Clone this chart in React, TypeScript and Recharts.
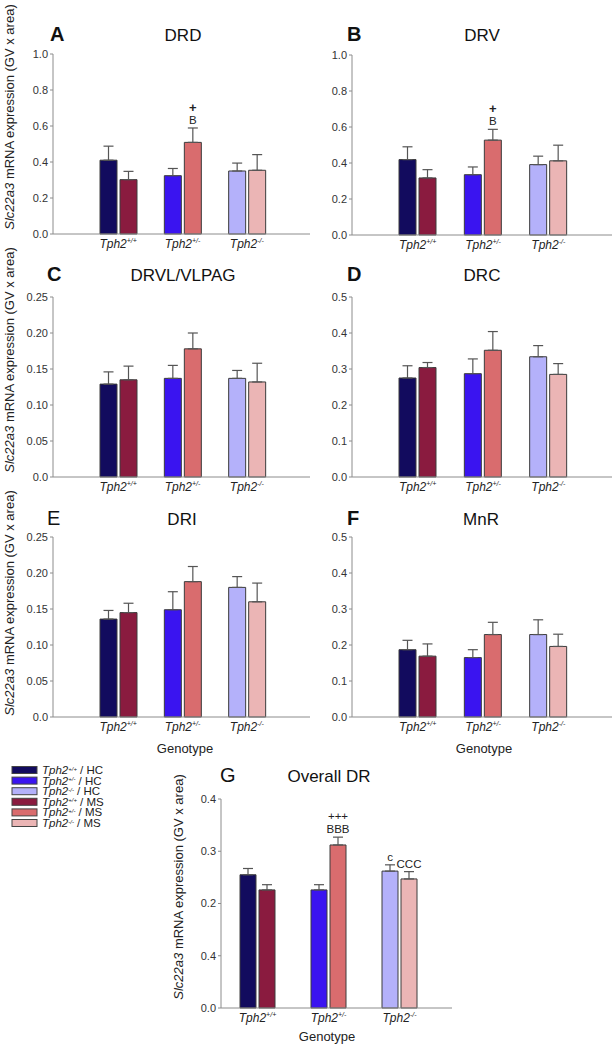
import React from 'react';
import { BarChart, Bar, XAxis, YAxis, ErrorBar, Cell, LabelList } from 'recharts';

const FONT = '"Liberation Sans", Arial, sans-serif';

// genotype categories and group colours
const genotypes = ['+/+', '+/-', '-/-'];
const hcColors = ['#120b5e', '#3a14f0', '#b4b1fa'];
const msColors = ['#8a1b3f', '#d96c6e', '#ebb5b5'];

// A - DRD
const drdHC = [0.41, 0.324, 0.35];
const drdHCErr = [0.078, 0.04, 0.044];
const drdMS = [0.302, 0.509, 0.354];
const drdMSErr = [0.046, 0.08, 0.087];
const drdMSNotes = ['', '+\nB', ''];

// B - DRV
const drvHC = [0.419, 0.335, 0.391];
const drvHCErr = [0.071, 0.043, 0.047];
const drvMS = [0.317, 0.527, 0.412];
const drvMSErr = [0.046, 0.06, 0.087];
const drvMSNotes = ['', '+\nB', ''];

// C - DRVL/VLPAG
const drvlHC = [0.129, 0.137, 0.137];
const drvlHCErr = [0.017, 0.018, 0.011];
const drvlMS = [0.135, 0.178, 0.132];
const drvlMSErr = [0.019, 0.022, 0.026];

// D - DRC
const drcHC = [0.275, 0.287, 0.334];
const drcHCErr = [0.034, 0.041, 0.031];
const drcMS = [0.304, 0.352, 0.285];
const drcMSErr = [0.014, 0.052, 0.03];

// E - DRI
const driHC = [0.136, 0.149, 0.18];
const driHCErr = [0.012, 0.025, 0.015];
const driMS = [0.145, 0.188, 0.16];
const driMSErr = [0.013, 0.021, 0.026];

// F - MnR
const mnrHC = [0.187, 0.165, 0.229];
const mnrHCErr = [0.026, 0.022, 0.041];
const mnrMS = [0.169, 0.229, 0.196];
const mnrMSErr = [0.034, 0.034, 0.034];

// G - Overall DR
const allHC = [0.255, 0.226, 0.262];
const allHCErr = [0.012, 0.01, 0.012];
const allMS = [0.226, 0.312, 0.247];
const allMSErr = [0.01, 0.015, 0.014];
const allHCNotes = ['', '', 'c'];
const allMSNotes = ['', '+++\nBBB', 'CCC'];

// y ticks
const ticks10 = [0, 0.2, 0.4, 0.6, 0.8, 1.0];
const ticks025 = [0, 0.05, 0.1, 0.15, 0.2, 0.25];
const ticks05 = [0, 0.1, 0.2, 0.3, 0.4, 0.5];
const ticksG = [0, 0.1, 0.2, 0.3, 0.4];
const ticksGLabels = ['0.0', '0.4', '0.2', '0.3', '0.4'];

const fmt1 = (v: number) => v.toFixed(1);
const fmt2 = (v: number) => (v === 0 ? '0.0' : v.toFixed(2));
const fmtG = (_v: number, i: number) => ticksGLabels[i];

const GenoTick = (props: any) => {
  const { x, y, payload } = props;
  return (
    <text x={x} y={y + 14} textAnchor="middle" fontFamily={FONT} fontSize={12} fontStyle="italic" fill="#222">
      Tph2
      <tspan fontSize={7} dy={-5}>{payload.value}</tspan>
    </text>
  );
};

const noteRenderer = (vals: number[], errs: number[], notes: string[]) => (props: any) => {
  const vb = props.viewBox || props;
  const i = props.index;
  const note = notes[i];
  if (!note) return null;
  const errPx = (vb.height * errs[i]) / vals[i];
  const capY = vb.y - errPx;
  const lines = note.split('\n');
  return (
    <g>
      {lines.map((l, k) => {
        const plus = l === '+';
        return (
          <text
            key={k}
            x={vb.x + vb.width / 2}
            y={capY - 4 - (lines.length - 1 - k) * (plus ? 12 : 13)}
            textAnchor="middle"
            fontFamily={FONT}
            fontSize={plus ? 13 : 11.5}
            fontWeight={plus ? 700 : 400}
            fill="#222"
          >
            {l}
          </text>
        );
      })}
    </g>
  );
};

type PanelProps = {
  x: number; top: number; w: number; h: number; max: number;
  ticks: number[]; fmt: (v: number, i: number) => string;
  pad: { left: number; right: number }; barSize: number;
  hc: number[]; hcErr: number[]; ms: number[]; msErr: number[];
  hcNotes?: string[]; msNotes?: string[];
};

function Panel(p: PanelProps) {
  const data = genotypes.map((g, i) => ({
    g,
    hc: p.hc[i],
    ms: p.ms[i],
    hcErr: [0, p.hcErr[i]],
    msErr: [0, p.msErr[i]],
    hcNote: p.hcNotes ? p.hcNotes[i] : '',
    msNote: p.msNotes ? p.msNotes[i] : '',
  }));
  return (
    <div style={{ position: 'absolute', left: p.x - 40, top: p.top - 10 }}>
      <BarChart
        width={40 + p.w + 4}
        height={10 + p.h + 30}
        data={data}
        margin={{ top: 10, right: 4, bottom: 0, left: 0 }}
        barGap={3}
        barSize={p.barSize}
      >
        <XAxis
          dataKey="g"
          height={30}
          interval={0}
          tick={<GenoTick />}
          tickLine={false}
          tickSize={0}
          tickMargin={0}
          padding={p.pad}
          axisLine={{ stroke: '#8c8c8c' }}
        />
        <YAxis
          width={40}
          domain={[0, p.max]}
          ticks={p.ticks}
          interval={0}
          tickFormatter={p.fmt}
          tickSize={3}
          tickMargin={2}
          tick={{ fontSize: 11, fill: '#333', fontFamily: FONT }}
          tickLine={{ stroke: '#8c8c8c' }}
          axisLine={{ stroke: '#8c8c8c' }}
        />
        <Bar dataKey="hc" isAnimationActive={false} stroke="#3c3c3c" strokeWidth={1}>
          {p.hc.map((_, i) => (
            <Cell key={i} fill={hcColors[i]} />
          ))}
          <ErrorBar dataKey="hcErr" width={5} stroke="#555" strokeWidth={1.2} direction="y" />
          {p.hcNotes && <LabelList dataKey="hcNote" content={noteRenderer(p.hc, p.hcErr, p.hcNotes)} />}
        </Bar>
        <Bar dataKey="ms" isAnimationActive={false} stroke="#3c3c3c" strokeWidth={1}>
          {p.ms.map((_, i) => (
            <Cell key={i} fill={msColors[i]} />
          ))}
          <ErrorBar dataKey="msErr" width={5} stroke="#555" strokeWidth={1.2} direction="y" />
          {p.msNotes && <LabelList dataKey="msNote" content={noteRenderer(p.ms, p.msErr, p.msNotes)} />}
        </Bar>
      </BarChart>
    </div>
  );
}

const padAF = { left: 33, right: 31 };
const padG = { left: 1, right: 17 };

const YLabel = ({ x, y }: { x: number; y: number }) => (
  <text x={x} y={y} transform={`rotate(-90 ${x} ${y})`} textAnchor="middle" fontFamily={FONT} fontSize={13} fill="#222">
    <tspan fontStyle="italic">Slc22a3</tspan> mRNA expression (GV x area)
  </text>
);

const Title = ({ x, y, letter, name, nameX, bold }: { x: number; y: number; letter: string; name: string; nameX: number; bold: boolean }) => (
  <g fontFamily={FONT} fill="#111">
    <text x={x} y={y} fontSize={20} fontWeight={bold ? 700 : 400}>{letter}</text>
    <text x={nameX} y={y} fontSize={17} textAnchor="middle">{name}</text>
  </g>
);

const legendRows = [
  { g: '+/+', grp: 'HC', c: hcColors[0] },
  { g: '+/-', grp: 'HC', c: hcColors[1] },
  { g: '-/-', grp: 'HC', c: hcColors[2] },
  { g: '+/+', grp: 'MS', c: msColors[0] },
  { g: '+/-', grp: 'MS', c: msColors[1] },
  { g: '-/-', grp: 'MS', c: msColors[2] },
];

export default function App() {
  return (
    <div style={{ position: 'absolute', left: 0, top: 0, width: 616, height: 1050, background: '#fff', overflow: 'hidden' }}>
      <Panel x={53} top={54} w={257} h={180} max={1} ticks={ticks10} fmt={fmt1} pad={padAF} barSize={17}
        hc={drdHC} hcErr={drdHCErr} ms={drdMS} msErr={drdMSErr} msNotes={drdMSNotes} />
      <Panel x={352} top={55} w={260} h={180} max={1} ticks={ticks10} fmt={fmt1} pad={padAF} barSize={17}
        hc={drvHC} hcErr={drvHCErr} ms={drvMS} msErr={drvMSErr} msNotes={drvMSNotes} />
      <Panel x={53} top={297} w={257} h={180} max={0.25} ticks={ticks025} fmt={fmt2} pad={padAF} barSize={17}
        hc={drvlHC} hcErr={drvlHCErr} ms={drvlMS} msErr={drvlMSErr} />
      <Panel x={352} top={297} w={260} h={180} max={0.5} ticks={ticks05} fmt={fmt1} pad={padAF} barSize={17}
        hc={drcHC} hcErr={drcHCErr} ms={drcMS} msErr={drcMSErr} />
      <Panel x={53} top={537} w={257} h={180} max={0.25} ticks={ticks025} fmt={fmt2} pad={padAF} barSize={17}
        hc={driHC} hcErr={driHCErr} ms={driMS} msErr={driMSErr} />
      <Panel x={352} top={537} w={260} h={180} max={0.5} ticks={ticks05} fmt={fmt1} pad={padAF} barSize={17}
        hc={mnrHC} hcErr={mnrHCErr} ms={mnrMS} msErr={mnrMSErr} />
      <Panel x={221} top={799} w={231} h={209} max={0.4} ticks={ticksG} fmt={fmtG} pad={padG} barSize={16}
        hc={allHC} hcErr={allHCErr} ms={allMS} msErr={allMSErr} hcNotes={allHCNotes} msNotes={allMSNotes} />

      <svg width={616} height={1050} style={{ position: 'absolute', left: 0, top: 0, pointerEvents: 'none' }}>
        <Title x={50} y={41} letter="A" name="DRD" nameX={183} bold />
        <Title x={347} y={41} letter="B" name="DRV" nameX={482} bold />
        <Title x={47} y={281} letter="C" name="DRVL/VLPAG" nameX={183} bold />
        <Title x={347} y={281} letter="D" name="DRC" nameX={482} bold />
        <Title x={47} y={525} letter="E" name="DRI" nameX={182} bold={false} />
        <Title x={347} y={525} letter="F" name="MnR" nameX={481} bold />
        <Title x={220} y={782} letter="G" name="Overall DR" nameX={329} bold={false} />

        <YLabel x={14} y={117} />
        <YLabel x={14} y={360} />
        <YLabel x={14} y={603} />
        <YLabel x={183} y={887} />

        <g fontFamily={FONT} fontSize={13} fill="#222" textAnchor="middle">
          <text x={185} y={753}>Genotype</text>
          <text x={484} y={753}>Genotype</text>
          <text x={327} y={1041}>Genotype</text>
        </g>

        {legendRows.map((r, i) => {
          const cy = 770 + i * 10.6;
          return (
            <g key={i}>
              <rect x={12} y={cy - 3.5} width={25} height={7} fill={r.c} stroke="#444" strokeWidth={1} />
              <text x={42} y={cy + 4} fontFamily={FONT} fontSize={11.5} fill="#222">
                <tspan fontStyle="italic">Tph2</tspan>
                <tspan fontStyle="italic" fontSize={6} dy={-3.5}>{r.g}</tspan>
                <tspan dy={3.5}>{` / ${r.grp}`}</tspan>
              </text>
            </g>
          );
        })}
      </svg>
    </div>
  );
}
